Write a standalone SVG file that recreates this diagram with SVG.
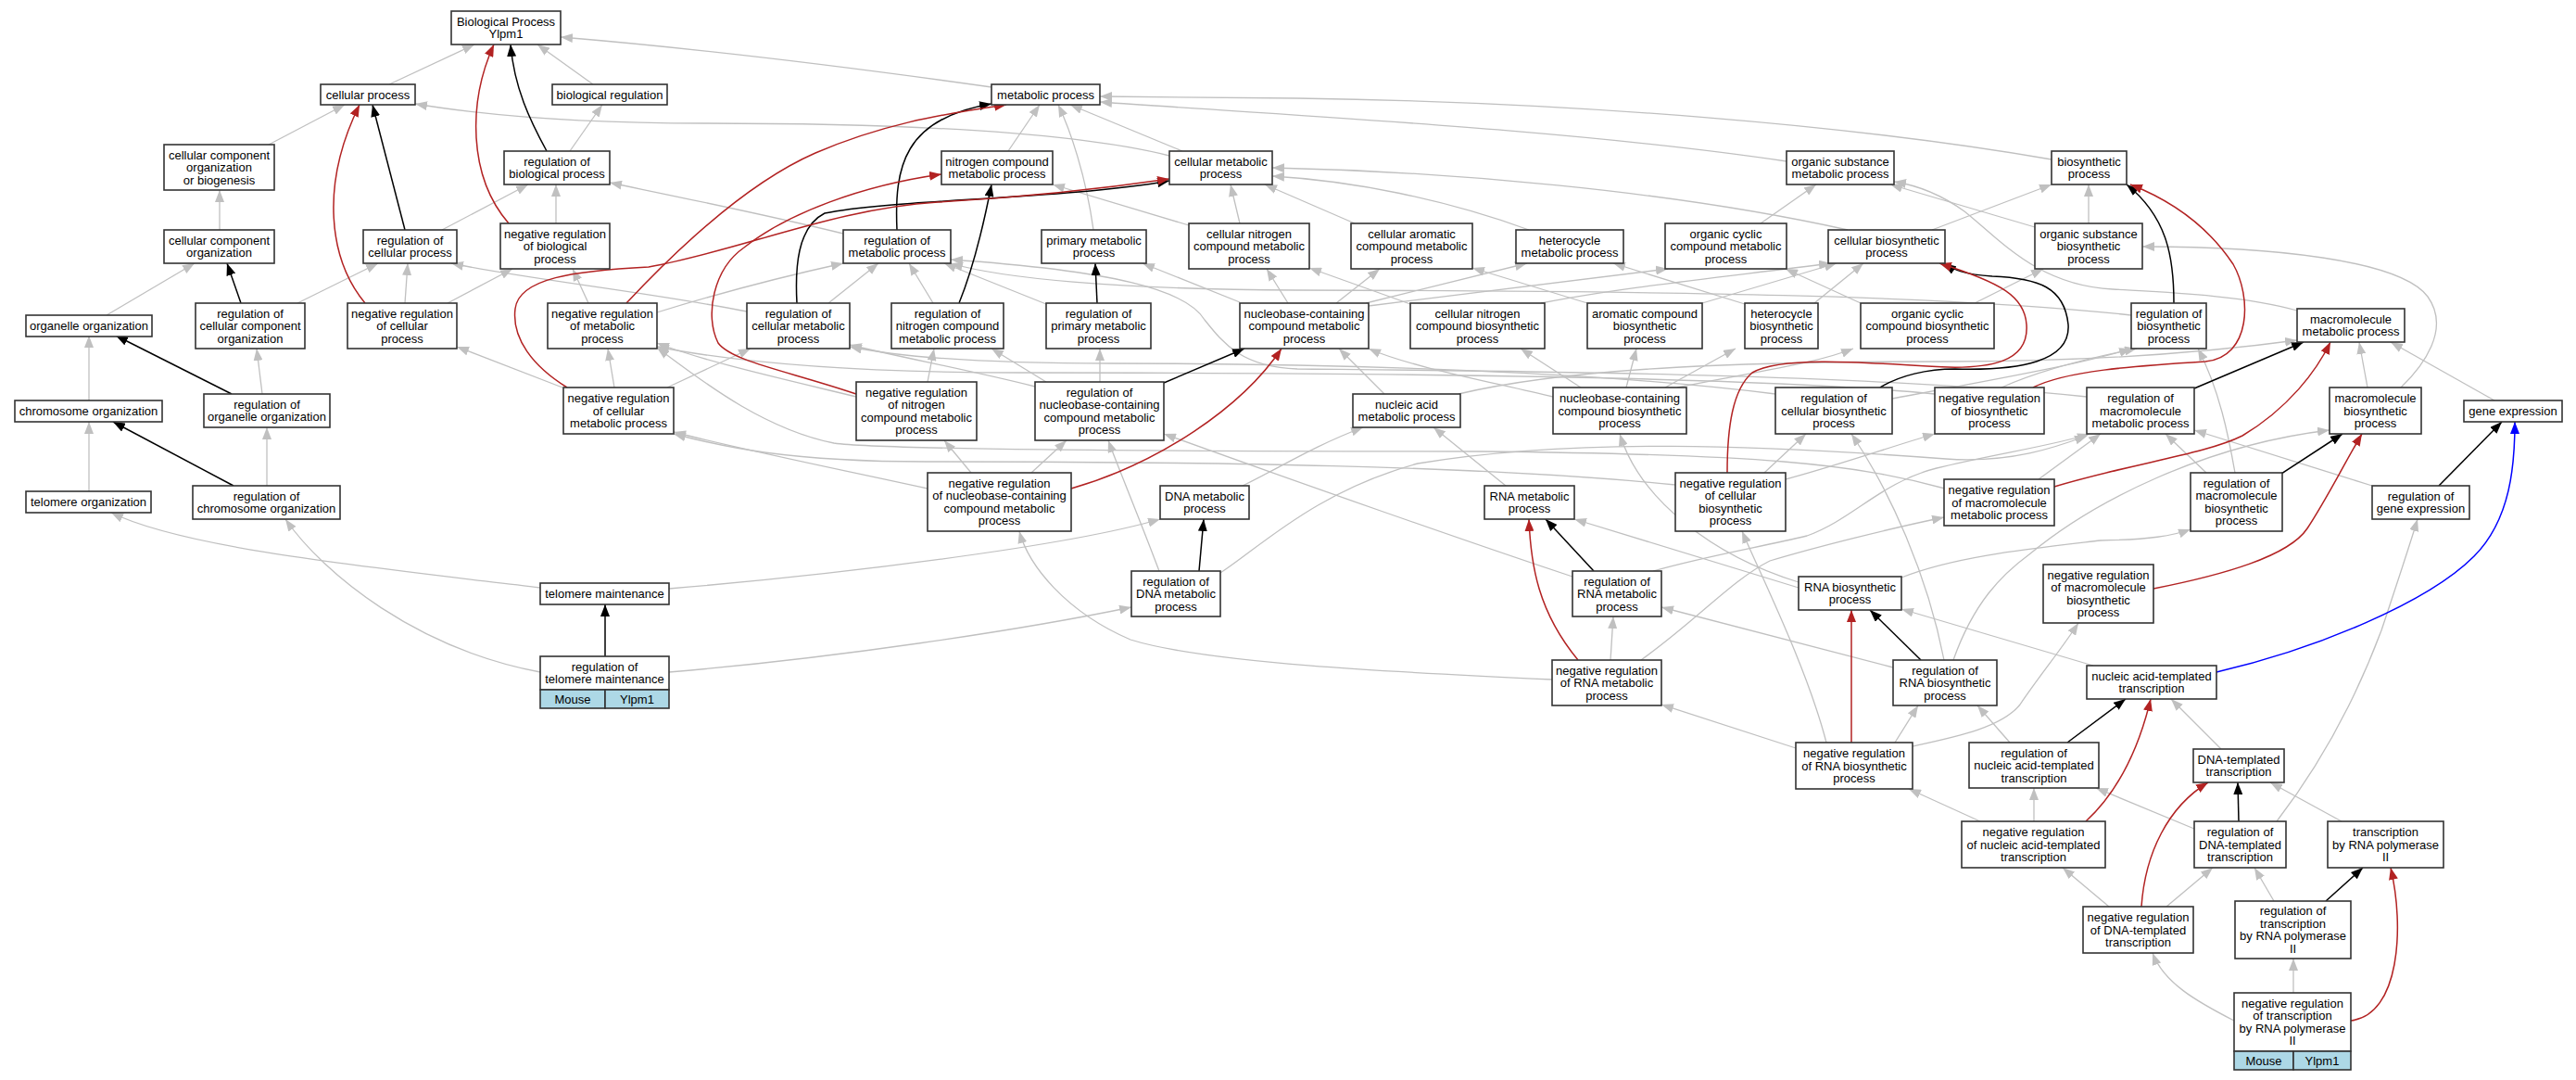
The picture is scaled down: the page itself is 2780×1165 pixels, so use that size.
<svg xmlns="http://www.w3.org/2000/svg" width="2780" height="1165" viewBox="0 0 2780 1165">
<style>
.b{fill:#fff;stroke:#333;stroke-width:1.6}
.m{fill:#add8e6;stroke:#333;stroke-width:1.6}
text{font-family:"Liberation Sans",Arial,Helvetica,sans-serif;font-size:13px;fill:#000;text-anchor:middle}
.g{fill:none;stroke:#c0c0c0;stroke-width:1.3;marker-end:url(#ag)}
.k{fill:none;stroke:#000;stroke-width:1.5;marker-end:url(#ak)}
.r{fill:none;stroke:#b22222;stroke-width:1.5;marker-end:url(#ar)}
.u{fill:none;stroke:#0000ff;stroke-width:1.5;marker-end:url(#au)}
</style>
<defs>
<marker id="ag" markerUnits="userSpaceOnUse" markerWidth="13" markerHeight="10" refX="13" refY="5" orient="auto"><path d="M0,0L13,5L0,10Z" fill="#c0c0c0"/></marker>
<marker id="ak" markerUnits="userSpaceOnUse" markerWidth="13" markerHeight="10" refX="13" refY="5" orient="auto"><path d="M0,0L13,5L0,10Z" fill="#000"/></marker>
<marker id="ar" markerUnits="userSpaceOnUse" markerWidth="13" markerHeight="10" refX="13" refY="5" orient="auto"><path d="M0,0L13,5L0,10Z" fill="#b22222"/></marker>
<marker id="au" markerUnits="userSpaceOnUse" markerWidth="13" markerHeight="10" refX="13" refY="5" orient="auto"><path d="M0,0L13,5L0,10Z" fill="#0000ff"/></marker>
</defs>
<rect width="2780" height="1165" fill="#fff"/>
<g id="edges">
<path class="g" d="M420,91L512,48"/>
<path class="g" d="M640,91L580,48"/>
<path class="g" d="M1070,94C900,70 750,52 605,40"/>
<path class="g" d="M290,156L372,113"/>
<path class="g" d="M1262,168C1150,140 950,133 760,133C620,133 520,124 448,112"/>
<path class="g" d="M615,163L650,113"/>
<path class="g" d="M1088,163L1122,113"/>
<path class="g" d="M1276,163L1155,113"/>
<path class="g" d="M1928,174C1700,140 1400,125 1187,110"/>
<path class="g" d="M2214,172C2000,135 1700,110 1400,106C1300,105 1230,104 1187,104"/>
<path class="g" d="M237,248L237,205"/>
<path class="g" d="M1180,248C1172,190 1155,140 1142,113"/>
<path class="g" d="M1283,243L1136,199"/>
<path class="g" d="M1338,241L1328,199"/>
<path class="g" d="M1462,241L1365,199"/>
<path class="g" d="M1650,248C1560,215 1460,195 1373,190"/>
<path class="g" d="M1994,248C1800,205 1560,185 1373,181"/>
<path class="g" d="M1900,241L1960,199"/>
<path class="g" d="M2196,245L2040,199"/>
<path class="g" d="M2479,335C2420,318 2330,315 2280,312C2200,308 2160,260 2120,228C2095,210 2070,200 2044,196"/>
<path class="g" d="M2085,248L2214,199"/>
<path class="g" d="M2254,241L2254,199"/>
<path class="g" d="M115,340L210,284"/>
<path class="g" d="M321,327L408,284"/>
<path class="g" d="M437,327L440,284"/>
<path class="g" d="M483,327L553,290"/>
<path class="g" d="M477,248L570,199"/>
<path class="g" d="M600,241L600,199"/>
<path class="g" d="M910,252C820,230 720,210 658,197"/>
<path class="g" d="M806,336C700,315 560,300 487,284"/>
<path class="g" d="M635,327L618,290"/>
<path class="g" d="M709,337C780,315 860,295 910,284"/>
<path class="g" d="M894,327L948,284"/>
<path class="g" d="M1007,327L981,284"/>
<path class="g" d="M1129,328L1019,284"/>
<path class="g" d="M1338,326L1233,284"/>
<path class="g" d="M1390,327L1367,290"/>
<path class="g" d="M1442,327L1489,290"/>
<path class="g" d="M1474,327L1648,284"/>
<path class="g" d="M1477,330L1800,290"/>
<path class="g" d="M1522,328L1413,289"/>
<path class="g" d="M1663,327C1750,310 1850,300 1976,284"/>
<path class="g" d="M1713,327L1589,289"/>
<path class="g" d="M1837,327C1900,308 1945,295 1982,284"/>
<path class="g" d="M1883,328L1741,284"/>
<path class="g" d="M1958,327L2011,284"/>
<path class="g" d="M2008,327L1927,290"/>
<path class="g" d="M2131,327L2205,290"/>
<path class="g" d="M2300,340C2100,318 1800,314 1400,313C1200,312 1080,300 1026,284"/>
<path class="g" d="M96,432L96,362"/>
<path class="g" d="M283,425L277,376"/>
<path class="g" d="M607,418L493,374"/>
<path class="g" d="M663,418L656,376"/>
<path class="g" d="M720,418L810,376"/>
<path class="g" d="M924,428C850,410 760,390 709,370"/>
<path class="g" d="M1001,412L1008,376"/>
<path class="g" d="M1117,417C1050,400 970,385 917,372"/>
<path class="g" d="M1129,412L1070,376"/>
<path class="g" d="M1187,412L1187,376"/>
<path class="g" d="M1494,425L1445,376"/>
<path class="g" d="M1574,425C1700,395 1900,390 2100,390C2300,390 2420,375 2479,367"/>
<path class="g" d="M1676,428C1600,410 1520,395 1477,376"/>
<path class="g" d="M1706,418L1641,376"/>
<path class="g" d="M1755,418L1766,376"/>
<path class="g" d="M1797,418L1873,376"/>
<path class="g" d="M1810,418C1900,400 1960,392 2000,376"/>
<path class="g" d="M1916,425C1700,398 1400,392 1200,392C1050,392 970,385 917,374"/>
<path class="g" d="M2042,430C2150,410 2250,392 2300,376"/>
<path class="g" d="M2088,425C1900,406 1500,402 1100,402C900,402 780,388 709,374"/>
<path class="g" d="M2160,418C2200,400 2260,385 2306,376"/>
<path class="g" d="M2252,428C2000,402 1600,400 1400,398C1340,396 1320,370 1300,345C1280,312 1200,292 1026,280"/>
<path class="g" d="M2555,418L2546,369"/>
<path class="g" d="M2591,418C2615,395 2645,355 2620,320C2590,280 2450,266 2312,266"/>
<path class="g" d="M2692,432L2580,369"/>
<path class="g" d="M96,530L96,455"/>
<path class="g" d="M288,524L288,461"/>
<path class="g" d="M1001,527C900,505 800,485 727,466"/>
<path class="g" d="M1048,510L1019,475"/>
<path class="g" d="M1113,510L1151,475"/>
<path class="g" d="M1341,524C1380,505 1420,480 1471,461"/>
<path class="g" d="M1625,524L1547,461"/>
<path class="g" d="M1808,523C1600,502 1300,498 1000,498C850,498 780,482 727,468"/>
<path class="g" d="M1904,510L1949,468"/>
<path class="g" d="M1927,517C1990,500 2040,482 2088,468"/>
<path class="g" d="M2099,527C2000,500 1900,490 1600,487C1200,487 950,485 900,478C820,462 750,405 709,375"/>
<path class="g" d="M2200,517L2267,468"/>
<path class="g" d="M2381,510L2337,468"/>
<path class="g" d="M2412,510C2405,470 2395,420 2372,376"/>
<path class="g" d="M2560,524L2368,464"/>
<path class="g" d="M583,634C400,612 200,592 120,553"/>
<path class="g" d="M722,635C900,620 1150,590 1252,560"/>
<path class="g" d="M1251,616C1230,560 1205,500 1196,475"/>
<path class="g" d="M1697,622C1600,590 1400,520 1256,468"/>
<path class="g" d="M1784,616C1840,600 1900,590 1950,578C2000,560 2030,520 2090,505C2150,490 2220,480 2255,468"/>
<path class="g" d="M1317,618C1360,590 1420,530 1530,500C1700,472 1900,480 2100,495C2170,500 2220,482 2252,470"/>
<path class="g" d="M1941,628C1850,600 1770,540 1748,468"/>
<path class="g" d="M1941,634L1699,560"/>
<path class="g" d="M2052,623C2110,600 2190,592 2267,583C2320,582 2345,578 2364,571"/>
<path class="g" d="M583,725C450,700 350,620 308,560"/>
<path class="g" d="M722,725C900,710 1100,680 1221,655"/>
<path class="g" d="M1675,733C1500,725 1300,715 1220,690C1150,660 1110,610 1100,573"/>
<path class="g" d="M1738,712L1741,665"/>
<path class="g" d="M1771,712C1830,670 1870,625 1910,605C1960,590 2040,570 2098,558"/>
<path class="g" d="M2043,720L1793,655"/>
<path class="g" d="M2098,712C2080,620 2040,530 1998,468"/>
<path class="g" d="M2108,712C2130,650 2160,620 2190,598C2260,540 2380,480 2514,464"/>
<path class="g" d="M2259,718L2052,657"/>
<path class="g" d="M1938,807L1793,760"/>
<path class="g" d="M2045,801L2070,761"/>
<path class="g" d="M1971,801C1950,720 1900,620 1880,573"/>
<path class="g" d="M2064,805C2110,795 2160,785 2180,760C2200,730 2225,700 2243,672"/>
<path class="g" d="M2169,801L2134,761"/>
<path class="g" d="M2397,808L2343,754"/>
<path class="g" d="M2195,886L2195,850"/>
<path class="g" d="M2137,886L2060,851"/>
<path class="g" d="M2368,894L2262,850"/>
<path class="g" d="M2457,886C2500,830 2540,760 2570,680C2590,620 2600,590 2609,560"/>
<path class="g" d="M2527,886L2450,844"/>
<path class="g" d="M2276,978L2226,936"/>
<path class="g" d="M2338,978L2388,936"/>
<path class="g" d="M2454,972L2433,936"/>
<path class="g" d="M2411,1101C2370,1080 2335,1060 2323,1028"/>
<path class="g" d="M2475,1071L2475,1034"/>
<path class="k" d="M590,163C572,130 555,95 551,48"/>
<path class="k" d="M437,248L402,113"/>
<path class="k" d="M260,327L245,284"/>
<path class="k" d="M250,425L125,362"/>
<path class="k" d="M252,524L122,455"/>
<path class="k" d="M653,708L653,652"/>
<path class="k" d="M968,248C965,180 975,128 1070,112"/>
<path class="k" d="M860,327C858,290 860,245 890,230C960,215 1150,215 1262,195"/>
<path class="k" d="M1035,327C1050,290 1062,240 1070,199"/>
<path class="k" d="M1184,327L1182,284"/>
<path class="k" d="M1256,413L1343,376"/>
<path class="k" d="M1294,616L1299,560"/>
<path class="k" d="M2029,418C2050,405 2080,398 2110,398C2180,400 2235,390 2232,350C2228,310 2200,300 2150,298C2120,296 2108,291 2098,284"/>
<path class="k" d="M2346,327C2346,280 2340,235 2295,199"/>
<path class="k" d="M2368,419L2486,369"/>
<path class="k" d="M2462,511L2528,468"/>
<path class="k" d="M2632,524L2700,455"/>
<path class="k" d="M1720,616L1668,560"/>
<path class="k" d="M2073,712L2018,658"/>
<path class="k" d="M2231,801L2294,754"/>
<path class="k" d="M2416,886L2415,844"/>
<path class="k" d="M2510,972L2550,936"/>
<path class="r" d="M549,241C505,190 505,110 533,48"/>
<path class="r" d="M394,327C355,280 345,200 388,113"/>
<path class="r" d="M676,327C720,280 800,200 880,165C950,135 1010,124 1086,113"/>
<path class="r" d="M612,418C575,395 552,365 556,333C560,300 620,292 700,288C800,270 900,225 1012,218C1100,213 1180,205 1262,193"/>
<path class="r" d="M924,425C850,400 790,390 775,370C760,340 770,290 803,267C850,230 930,200 1016,188"/>
<path class="r" d="M1156,527C1250,500 1340,440 1383,376"/>
<path class="r" d="M1864,510C1864,460 1870,420 1891,402C1920,385 2000,390 2080,395C2150,400 2190,390 2187,350C2185,320 2160,305 2093,284"/>
<path class="r" d="M2194,418C2230,400 2300,395 2380,390C2430,385 2430,320 2410,285C2380,240 2340,215 2299,199"/>
<path class="r" d="M2217,525C2300,500 2380,490 2420,470C2470,440 2500,400 2515,369"/>
<path class="r" d="M2324,635C2400,620 2470,600 2490,570C2510,540 2530,500 2549,468"/>
<path class="r" d="M1703,712C1660,660 1652,610 1650,560"/>
<path class="r" d="M1998,801L1998,658"/>
<path class="r" d="M2251,886C2290,850 2310,800 2321,754"/>
<path class="r" d="M2311,978C2315,920 2340,870 2383,844"/>
<path class="r" d="M2537,1101C2590,1095 2595,1000 2580,936"/>
<path class="u" d="M2392,725C2500,700 2620,650 2670,600C2710,560 2714,500 2714,455"/>
</g>
<g id="n1"><rect class="b" x="487" y="12" width="118" height="36"/><text x="546" y="27.75">Biological Process</text><text x="546" y="41.25">Ylpm1</text></g>
<g id="n2"><rect class="b" x="346" y="91" width="102" height="22"/><text x="397" y="106.5">cellular process</text></g>
<g id="n3"><rect class="b" x="596" y="91" width="124" height="22"/><text x="658" y="106.5">biological regulation</text></g>
<g id="n4"><rect class="b" x="1070" y="91" width="117" height="22"/><text x="1128.5" y="106.5">metabolic process</text></g>
<g id="n5"><rect class="b" x="177" y="156" width="119" height="49"/><text x="236.5" y="171.5">cellular component</text><text x="236.5" y="185">organization</text><text x="236.5" y="198.5">or biogenesis</text></g>
<g id="n6"><rect class="b" x="544" y="163" width="114" height="36"/><text x="601" y="178.75">regulation of</text><text x="601" y="192.25">biological process</text></g>
<g id="n7"><rect class="b" x="1016" y="163" width="120" height="36"/><text x="1076" y="178.75">nitrogen compound</text><text x="1076" y="192.25">metabolic process</text></g>
<g id="n8"><rect class="b" x="1262" y="163" width="111" height="36"/><text x="1317.5" y="178.75">cellular metabolic</text><text x="1317.5" y="192.25">process</text></g>
<g id="n9"><rect class="b" x="1928" y="163" width="116" height="36"/><text x="1986" y="178.75">organic substance</text><text x="1986" y="192.25">metabolic process</text></g>
<g id="n10"><rect class="b" x="2214" y="163" width="81" height="36"/><text x="2254.5" y="178.75">biosynthetic</text><text x="2254.5" y="192.25">process</text></g>
<g id="n11"><rect class="b" x="177" y="248" width="119" height="36"/><text x="236.5" y="263.75">cellular component</text><text x="236.5" y="277.25">organization</text></g>
<g id="n12"><rect class="b" x="392" y="248" width="101" height="36"/><text x="442.5" y="263.75">regulation of</text><text x="442.5" y="277.25">cellular process</text></g>
<g id="n13"><rect class="b" x="540" y="241" width="118" height="49"/><text x="599" y="256.5">negative regulation</text><text x="599" y="270">of biological</text><text x="599" y="283.5">process</text></g>
<g id="n14"><rect class="b" x="910" y="248" width="116" height="36"/><text x="968" y="263.75">regulation of</text><text x="968" y="277.25">metabolic process</text></g>
<g id="n15"><rect class="b" x="1124" y="248" width="113" height="36"/><text x="1180.5" y="263.75">primary metabolic</text><text x="1180.5" y="277.25">process</text></g>
<g id="n16"><rect class="b" x="1283" y="241" width="130" height="49"/><text x="1348" y="256.5">cellular nitrogen</text><text x="1348" y="270">compound metabolic</text><text x="1348" y="283.5">process</text></g>
<g id="n17"><rect class="b" x="1458" y="241" width="131" height="49"/><text x="1523.5" y="256.5">cellular aromatic</text><text x="1523.5" y="270">compound metabolic</text><text x="1523.5" y="283.5">process</text></g>
<g id="n18"><rect class="b" x="1636" y="248" width="116" height="36"/><text x="1694" y="263.75">heterocycle</text><text x="1694" y="277.25">metabolic process</text></g>
<g id="n19"><rect class="b" x="1797" y="241" width="131" height="49"/><text x="1862.5" y="256.5">organic cyclic</text><text x="1862.5" y="270">compound metabolic</text><text x="1862.5" y="283.5">process</text></g>
<g id="n20"><rect class="b" x="1973" y="248" width="126" height="36"/><text x="2036" y="263.75">cellular biosynthetic</text><text x="2036" y="277.25">process</text></g>
<g id="n21"><rect class="b" x="2196" y="241" width="116" height="49"/><text x="2254" y="256.5">organic substance</text><text x="2254" y="270">biosynthetic</text><text x="2254" y="283.5">process</text></g>
<g id="n22"><rect class="b" x="28" y="340" width="136" height="23"/><text x="96" y="356">organelle organization</text></g>
<g id="n23"><rect class="b" x="211" y="327" width="118" height="49"/><text x="270" y="342.5">regulation of</text><text x="270" y="356">cellular component</text><text x="270" y="369.5">organization</text></g>
<g id="n24"><rect class="b" x="375" y="327" width="118" height="49"/><text x="434" y="342.5">negative regulation</text><text x="434" y="356">of cellular</text><text x="434" y="369.5">process</text></g>
<g id="n25"><rect class="b" x="591" y="327" width="118" height="49"/><text x="650" y="342.5">negative regulation</text><text x="650" y="356">of metabolic</text><text x="650" y="369.5">process</text></g>
<g id="n26"><rect class="b" x="806" y="327" width="111" height="49"/><text x="861.5" y="342.5">regulation of</text><text x="861.5" y="356">cellular metabolic</text><text x="861.5" y="369.5">process</text></g>
<g id="n27"><rect class="b" x="962" y="327" width="121" height="49"/><text x="1022.5" y="342.5">regulation of</text><text x="1022.5" y="356">nitrogen compound</text><text x="1022.5" y="369.5">metabolic process</text></g>
<g id="n28"><rect class="b" x="1129" y="327" width="113" height="49"/><text x="1185.5" y="342.5">regulation of</text><text x="1185.5" y="356">primary metabolic</text><text x="1185.5" y="369.5">process</text></g>
<g id="n29"><rect class="b" x="1338" y="327" width="139" height="49"/><text x="1407.5" y="342.5">nucleobase-containing</text><text x="1407.5" y="356">compound metabolic</text><text x="1407.5" y="369.5">process</text></g>
<g id="n30"><rect class="b" x="1522" y="327" width="145" height="49"/><text x="1594.5" y="342.5">cellular nitrogen</text><text x="1594.5" y="356">compound biosynthetic</text><text x="1594.5" y="369.5">process</text></g>
<g id="n31"><rect class="b" x="1713" y="327" width="124" height="49"/><text x="1775" y="342.5">aromatic compound</text><text x="1775" y="356">biosynthetic</text><text x="1775" y="369.5">process</text></g>
<g id="n32"><rect class="b" x="1883" y="327" width="79" height="49"/><text x="1922.5" y="342.5">heterocycle</text><text x="1922.5" y="356">biosynthetic</text><text x="1922.5" y="369.5">process</text></g>
<g id="n33"><rect class="b" x="2008" y="327" width="144" height="49"/><text x="2080" y="342.5">organic cyclic</text><text x="2080" y="356">compound biosynthetic</text><text x="2080" y="369.5">process</text></g>
<g id="n34"><rect class="b" x="2300" y="327" width="81" height="49"/><text x="2340.5" y="342.5">regulation of</text><text x="2340.5" y="356">biosynthetic</text><text x="2340.5" y="369.5">process</text></g>
<g id="n35"><rect class="b" x="2479" y="333" width="116" height="36"/><text x="2537" y="348.75">macromolecule</text><text x="2537" y="362.25">metabolic process</text></g>
<g id="n36"><rect class="b" x="16" y="432" width="159" height="23"/><text x="95.5" y="448">chromosome organization</text></g>
<g id="n37"><rect class="b" x="220" y="425" width="136" height="36"/><text x="288" y="440.75">regulation of</text><text x="288" y="454.25">organelle organization</text></g>
<g id="n38"><rect class="b" x="608" y="418" width="119" height="50"/><text x="667.5" y="434">negative regulation</text><text x="667.5" y="447.5">of cellular</text><text x="667.5" y="461">metabolic process</text></g>
<g id="n39"><rect class="b" x="924" y="412" width="130" height="63"/><text x="989" y="427.75">negative regulation</text><text x="989" y="441.25">of nitrogen</text><text x="989" y="454.75">compound metabolic</text><text x="989" y="468.25">process</text></g>
<g id="n40"><rect class="b" x="1117" y="412" width="139" height="63"/><text x="1186.5" y="427.75">regulation of</text><text x="1186.5" y="441.25">nucleobase-containing</text><text x="1186.5" y="454.75">compound metabolic</text><text x="1186.5" y="468.25">process</text></g>
<g id="n41"><rect class="b" x="1460" y="425" width="116" height="36"/><text x="1518" y="440.75">nucleic acid</text><text x="1518" y="454.25">metabolic process</text></g>
<g id="n42"><rect class="b" x="1676" y="418" width="144" height="50"/><text x="1748" y="434">nucleobase-containing</text><text x="1748" y="447.5">compound biosynthetic</text><text x="1748" y="461">process</text></g>
<g id="n43"><rect class="b" x="1916" y="418" width="126" height="50"/><text x="1979" y="434">regulation of</text><text x="1979" y="447.5">cellular biosynthetic</text><text x="1979" y="461">process</text></g>
<g id="n44"><rect class="b" x="2088" y="418" width="118" height="50"/><text x="2147" y="434">negative regulation</text><text x="2147" y="447.5">of biosynthetic</text><text x="2147" y="461">process</text></g>
<g id="n45"><rect class="b" x="2252" y="418" width="116" height="50"/><text x="2310" y="434">regulation of</text><text x="2310" y="447.5">macromolecule</text><text x="2310" y="461">metabolic process</text></g>
<g id="n46"><rect class="b" x="2514" y="418" width="99" height="50"/><text x="2563.5" y="434">macromolecule</text><text x="2563.5" y="447.5">biosynthetic</text><text x="2563.5" y="461">process</text></g>
<g id="n47"><rect class="b" x="2659" y="432" width="106" height="23"/><text x="2712" y="448">gene expression</text></g>
<g id="n48"><rect class="b" x="28" y="530" width="135" height="23"/><text x="95.5" y="546">telomere organization</text></g>
<g id="n49"><rect class="b" x="208" y="524" width="159" height="36"/><text x="287.5" y="539.75">regulation of</text><text x="287.5" y="553.25">chromosome organization</text></g>
<g id="n50"><rect class="b" x="1001" y="510" width="155" height="63"/><text x="1078.5" y="525.75">negative regulation</text><text x="1078.5" y="539.25">of nucleobase-containing</text><text x="1078.5" y="552.75">compound metabolic</text><text x="1078.5" y="566.25">process</text></g>
<g id="n51"><rect class="b" x="1252" y="524" width="96" height="36"/><text x="1300" y="539.75">DNA metabolic</text><text x="1300" y="553.25">process</text></g>
<g id="n52"><rect class="b" x="1602" y="524" width="97" height="36"/><text x="1650.5" y="539.75">RNA metabolic</text><text x="1650.5" y="553.25">process</text></g>
<g id="n53"><rect class="b" x="1808" y="510" width="119" height="63"/><text x="1867.5" y="525.75">negative regulation</text><text x="1867.5" y="539.25">of cellular</text><text x="1867.5" y="552.75">biosynthetic</text><text x="1867.5" y="566.25">process</text></g>
<g id="n54"><rect class="b" x="2098" y="517" width="119" height="50"/><text x="2157.5" y="533">negative regulation</text><text x="2157.5" y="546.5">of macromolecule</text><text x="2157.5" y="560">metabolic process</text></g>
<g id="n55"><rect class="b" x="2364" y="510" width="99" height="63"/><text x="2413.5" y="525.75">regulation of</text><text x="2413.5" y="539.25">macromolecule</text><text x="2413.5" y="552.75">biosynthetic</text><text x="2413.5" y="566.25">process</text></g>
<g id="n56"><rect class="b" x="2560" y="524" width="105" height="36"/><text x="2612.5" y="539.75">regulation of</text><text x="2612.5" y="553.25">gene expression</text></g>
<g id="n57"><rect class="b" x="583" y="629" width="139" height="23"/><text x="652.5" y="645">telomere maintenance</text></g>
<g id="n58"><rect class="b" x="1221" y="616" width="96" height="49"/><text x="1269" y="631.5">regulation of</text><text x="1269" y="645">DNA metabolic</text><text x="1269" y="658.5">process</text></g>
<g id="n59"><rect class="b" x="1697" y="616" width="96" height="49"/><text x="1745" y="631.5">regulation of</text><text x="1745" y="645">RNA metabolic</text><text x="1745" y="658.5">process</text></g>
<g id="n60"><rect class="b" x="1941" y="622" width="111" height="36"/><text x="1996.5" y="637.75">RNA biosynthetic</text><text x="1996.5" y="651.25">process</text></g>
<g id="n61"><rect class="b" x="2205" y="609" width="119" height="63"/><text x="2264.5" y="624.75">negative regulation</text><text x="2264.5" y="638.25">of macromolecule</text><text x="2264.5" y="651.75">biosynthetic</text><text x="2264.5" y="665.25">process</text></g>
<g id="n62"><rect class="b" x="583" y="708" width="139" height="36"/><text x="652.5" y="723.75">regulation of</text><text x="652.5" y="737.25">telomere maintenance</text><rect class="m" x="583" y="744" width="70" height="20"/><rect class="m" x="653" y="744" width="69" height="20"/><text x="618" y="758.5">Mouse</text><text x="687.5" y="758.5">Ylpm1</text></g>
<g id="n63"><rect class="b" x="1675" y="712" width="118" height="49"/><text x="1734" y="727.5">negative regulation</text><text x="1734" y="741">of RNA metabolic</text><text x="1734" y="754.5">process</text></g>
<g id="n64"><rect class="b" x="2043" y="712" width="112" height="49"/><text x="2099" y="727.5">regulation of</text><text x="2099" y="741">RNA biosynthetic</text><text x="2099" y="754.5">process</text></g>
<g id="n65"><rect class="b" x="2252" y="718" width="140" height="36"/><text x="2322" y="733.75">nucleic acid-templated</text><text x="2322" y="747.25">transcription</text></g>
<g id="n66"><rect class="b" x="1938" y="801" width="126" height="50"/><text x="2001" y="817">negative regulation</text><text x="2001" y="830.5">of RNA biosynthetic</text><text x="2001" y="844">process</text></g>
<g id="n67"><rect class="b" x="2125" y="801" width="140" height="49"/><text x="2195" y="816.5">regulation of</text><text x="2195" y="830">nucleic acid-templated</text><text x="2195" y="843.5">transcription</text></g>
<g id="n68"><rect class="b" x="2367" y="808" width="98" height="36"/><text x="2416" y="823.75">DNA-templated</text><text x="2416" y="837.25">transcription</text></g>
<g id="n69"><rect class="b" x="2117" y="886" width="155" height="50"/><text x="2194.5" y="902">negative regulation</text><text x="2194.5" y="915.5">of nucleic acid-templated</text><text x="2194.5" y="929">transcription</text></g>
<g id="n70"><rect class="b" x="2368" y="886" width="99" height="50"/><text x="2417.5" y="902">regulation of</text><text x="2417.5" y="915.5">DNA-templated</text><text x="2417.5" y="929">transcription</text></g>
<g id="n71"><rect class="b" x="2512" y="886" width="125" height="50"/><text x="2574.5" y="902">transcription</text><text x="2574.5" y="915.5">by RNA polymerase</text><text x="2574.5" y="929">II</text></g>
<g id="n72"><rect class="b" x="2248" y="978" width="119" height="50"/><text x="2307.5" y="994">negative regulation</text><text x="2307.5" y="1007.5">of DNA-templated</text><text x="2307.5" y="1021">transcription</text></g>
<g id="n73"><rect class="b" x="2412" y="972" width="125" height="62"/><text x="2474.5" y="987.25">regulation of</text><text x="2474.5" y="1000.75">transcription</text><text x="2474.5" y="1014.25">by RNA polymerase</text><text x="2474.5" y="1027.75">II</text></g>
<g id="n74"><rect class="b" x="2411" y="1071" width="126" height="63"/><text x="2474" y="1086.75">negative regulation</text><text x="2474" y="1100.25">of transcription</text><text x="2474" y="1113.75">by RNA polymerase</text><text x="2474" y="1127.25">II</text><rect class="m" x="2411" y="1134" width="64" height="20"/><rect class="m" x="2475" y="1134" width="62" height="20"/><text x="2443" y="1148.5">Mouse</text><text x="2506" y="1148.5">Ylpm1</text></g>
</svg>
